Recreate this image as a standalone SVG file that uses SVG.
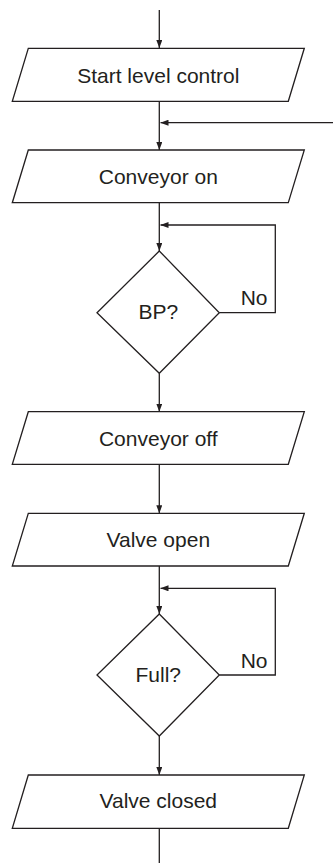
<svg xmlns="http://www.w3.org/2000/svg" width="333" height="863" viewBox="0 0 333 863">
<style>
.shape{fill:#fff;stroke:#231f20;stroke-width:1.3}
.line{fill:none;stroke:#231f20;stroke-width:1.3}
text{font-family:"Liberation Sans",Arial,sans-serif;font-size:21px;fill:#231f20}
.c{text-anchor:middle}
</style>
<defs>
<marker id="ah" markerWidth="8" markerHeight="6" refX="8" refY="3" orient="auto" markerUnits="userSpaceOnUse">
<path d="M0,0 L8,3 L0,6 z" fill="#231f20"/>
</marker>
</defs>
<g id="connectors">
<line class="line" x1="159.3" y1="10" x2="159.3" y2="48" marker-end="url(#ah)"/>
<line class="line" x1="159.3" y1="101.3" x2="159.3" y2="150" marker-end="url(#ah)"/>
<line class="line" x1="333" y1="122.7" x2="160.5" y2="122.7" marker-end="url(#ah)"/>
<line class="line" x1="159.3" y1="202.7" x2="159.3" y2="251" marker-end="url(#ah)"/>
<polyline class="line" points="219.3,312.7 275.3,312.7 275.3,225 160.5,225" marker-end="url(#ah)"/>
<line class="line" x1="159.3" y1="373.3" x2="159.3" y2="411.7" marker-end="url(#ah)"/>
<line class="line" x1="159.3" y1="464.3" x2="159.3" y2="513.3" marker-end="url(#ah)"/>
<line class="line" x1="159.3" y1="566" x2="159.3" y2="614" marker-end="url(#ah)"/>
<polyline class="line" points="219.3,675 275.3,675 275.3,588.3 160.5,588.3" marker-end="url(#ah)"/>
<line class="line" x1="159.3" y1="736" x2="159.3" y2="775" marker-end="url(#ah)"/>
<line class="line" x1="159.3" y1="828.3" x2="159.3" y2="863"/>
</g>
<g id="start">
<polygon class="shape" points="28.3,48.3 304.3,48.3 288.3,101.3 12.3,101.3"/>
<text class="c" x="158.3" y="83.3">Start level control</text>
</g>
<g id="conveyor-on">
<polygon class="shape" points="28.3,150 304.3,150 288.3,202.7 12.3,202.7"/>
<text class="c" x="158.3" y="184.3">Conveyor on</text>
</g>
<g id="bp">
<polygon class="shape" points="159.3,251 219.3,312.7 159.3,373.3 97,312.7"/>
<text class="c" x="158.3" y="319.3">BP?</text>
<text x="240.7" y="305">No</text>
</g>
<g id="conveyor-off">
<polygon class="shape" points="28.3,411.7 304.3,411.7 288.3,464.3 12.3,464.3"/>
<text class="c" x="158.3" y="446">Conveyor off</text>
</g>
<g id="valve-open">
<polygon class="shape" points="28.3,513.3 304.3,513.3 288.3,566 12.3,566"/>
<text class="c" x="158.3" y="547.3">Valve open</text>
</g>
<g id="full">
<polygon class="shape" points="159.3,614 219.3,675 159.3,736 97,675"/>
<text class="c" x="158.3" y="682.3">Full?</text>
<text x="240.7" y="667.7">No</text>
</g>
<g id="valve-closed">
<polygon class="shape" points="28.3,775 304.3,775 288.3,828.3 12.3,828.3"/>
<text class="c" x="158.3" y="808.3">Valve closed</text>
</g>
</svg>
